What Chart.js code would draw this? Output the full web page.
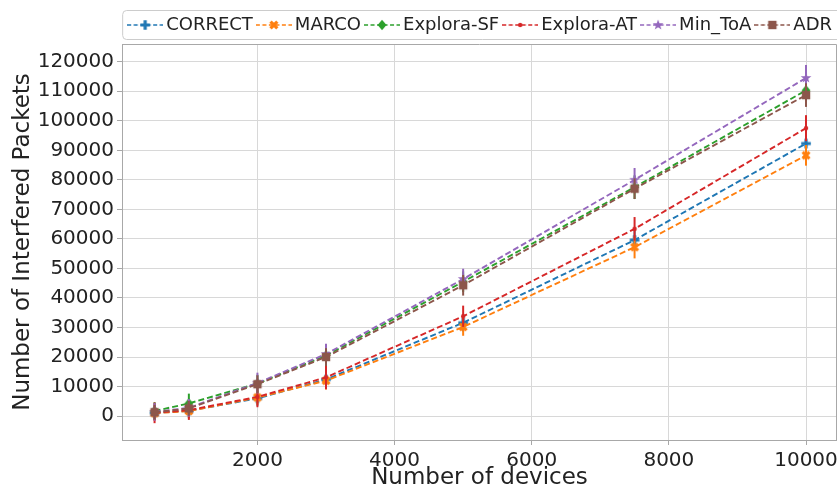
<!DOCTYPE html>
<html>
<head>
<meta charset="utf-8">
<script src="https://cdn.jsdelivr.net/npm/chart.js@4.4.1/dist/chart.umd.min.js"></script>
<style>
  html, body { margin:0; padding:0; background:#fff; }
  #wrap { width:837px; height:487px; position:relative; overflow:hidden; }
</style>
</head>
<body>
<div id="wrap"><canvas id="c" width="837" height="487"></canvas></div>
<script>
// ---- data ----
const devices = [500, 1000, 2000, 3000, 5000, 7500, 10000];
const seriesNames = ['CORRECT', 'MARCO', 'Explora-SF', 'Explora-AT', 'Min_ToA', 'ADR'];
const correct   = [1100, 1800, 6000, 12400, 31600, 59600, 92300];
const marco     = [1000, 1700, 6300, 12000, 30200, 57200, 88300];
const exploraSF = [1700, 4300, 11000, 20500, 45500, 77500, 110300];
const exploraAT = [1100, 2000, 6500, 13100, 33800, 63400, 97500];
const minToA    = [1400, 2800, 11200, 21000, 46400, 80000, 114500];
const adr       = [1300, 2600, 10800, 20000, 44300, 77000, 108700];
const errCorrect   = [2500, 2500, 2500, 3000, 3000, 3500, 3500];
const errMarco     = [2500, 2500, 2500, 3000, 3000, 3800, 3500];
const errExploraSF = [3000, 3300, 3000, 3500, 3500, 4000, 4000];
const errExploraAT = [3500, 3300, 3500, 4000, 3600, 4000, 4400];
const errMinToA    = [3000, 3000, 3500, 3500, 3500, 4000, 4400];
const errAdr       = [2500, 2500, 3000, 3000, 3500, 3500, 4000];
const xTickValues = [2000, 4000, 6000, 8000, 10000];
const yTickValues = [0, 10000, 20000, 30000, 40000, 50000, 60000, 70000, 80000, 90000, 100000, 110000, 120000];

const colors = ['#1f77b4', '#ff7f0e', '#2ca02c', '#d62728', '#9467bd', '#8c564b'];
const markerTypes = ['plus', 'x', 'diamond', 'dot', 'star', 'square'];
const values = [correct, marco, exploraSF, exploraAT, minToA, adr];
const errors = [errCorrect, errMarco, errExploraSF, errExploraAT, errMinToA, errAdr];

function drawMarkerShape(ctx, type, color, cx, cy) {
  ctx.fillStyle = color;
  ctx.beginPath();
  if (type === 'plus' || type === 'x') {
    ctx.save();
    ctx.translate(cx, cy);
    if (type === 'x') ctx.rotate(Math.PI / 4);
    const a = 4.8, t = 1.6;
    ctx.rect(-a, -t, 2 * a, 2 * t);
    ctx.rect(-t, -a, 2 * t, 2 * a);
    ctx.fill();
    ctx.restore();
    return;
  } else if (type === 'diamond') {
    const r = 5.2;
    ctx.moveTo(cx, cy - r); ctx.lineTo(cx + r * 0.85, cy); ctx.lineTo(cx, cy + r); ctx.lineTo(cx - r * 0.85, cy);
    ctx.closePath();
  } else if (type === 'dot') {
    ctx.arc(cx, cy, 2.2, 0, Math.PI * 2);
  } else if (type === 'star') {
    const R = 5.6, r = 2.3;
    for (let k = 0; k < 10; k++) {
      const ang = -Math.PI / 2 + k * Math.PI / 5;
      const rad = k % 2 === 0 ? R : r;
      const px = cx + rad * Math.cos(ang), py = cy + rad * Math.sin(ang);
      if (k === 0) ctx.moveTo(px, py); else ctx.lineTo(px, py);
    }
    ctx.closePath();
  } else if (type === 'square') {
    ctx.rect(cx - 4.2, cy - 4.2, 8.4, 8.4);
  }
  ctx.fill();
}

function makeMarker(type, color) {
  const c = document.createElement('canvas');
  c.width = 14; c.height = 14;
  drawMarkerShape(c.getContext('2d'), type, color, 7, 7);
  return c;
}
function makeLegendSample(type, color) {
  const c = document.createElement('canvas');
  c.width = 36; c.height = 16;
  const ctx = c.getContext('2d');
  ctx.strokeStyle = color;
  ctx.lineWidth = 1.7;
  ctx.setLineDash([4, 2.5]);
  ctx.beginPath(); ctx.moveTo(0, 8); ctx.lineTo(36, 8); ctx.stroke();
  ctx.setLineDash([]);
  drawMarkerShape(ctx, type, color, 18, 8);
  return c;
}

const markerImgs = markerTypes.map((t, i) => makeMarker(t, colors[i]));
const legendImgs = markerTypes.map((t, i) => makeLegendSample(t, colors[i]));

const datasets = seriesNames.map((name, i) => ({
  label: name,
  data: devices.map((x, j) => ({ x: x, y: values[i][j] })),
  errs: errors[i],
  borderColor: colors[i],
  backgroundColor: colors[i],
  borderWidth: 1.9,
  borderDash: [6, 3],
  pointStyle: markerImgs[i],
  pointRadius: 5,
  pointHoverRadius: 5,
  fill: false,
  tension: 0,
  order: seriesNames.length - 1 - i
}));

const errorBarPlugin = {
  id: 'errorBars',
  beforeDatasetDraw(chart, args) {
    const ds = chart.data.datasets[args.index];
    const xs = chart.scales.x, ys = chart.scales.y;
    const ctx = chart.ctx;
    ctx.save();
    ctx.beginPath();
    ctx.rect(chart.chartArea.left, chart.chartArea.top, chart.chartArea.right - chart.chartArea.left, chart.chartArea.bottom - chart.chartArea.top);
    ctx.clip();
    ctx.strokeStyle = ds.borderColor;
    ctx.lineWidth = 2;
    ds.data.forEach((p, j) => {
      const px = xs.getPixelForValue(p.x);
      ctx.beginPath();
      ctx.moveTo(px, ys.getPixelForValue(p.y - ds.errs[j]));
      ctx.lineTo(px, ys.getPixelForValue(p.y + ds.errs[j]));
      ctx.stroke();
    });
    ctx.restore();
  }
};

const framePlugin = {
  id: 'frame',
  afterDraw(chart) {
    const ctx = chart.ctx, a = chart.chartArea;
    ctx.save();
    ctx.strokeStyle = '#a8a8a8';
    ctx.lineWidth = 1;
    ctx.beginPath();
    ctx.moveTo(a.left + 0.5, a.top + 0.5);
    ctx.lineTo(a.right - 0.5, a.top + 0.5);
    ctx.lineTo(a.right - 0.5, a.bottom);
    ctx.stroke();
    // legend box
    const lg = chart.legend;
    if (lg && lg.legendHitBoxes && lg.legendHitBoxes.length) {
      const hb = lg.legendHitBoxes;
      const cy = hb[0].top + hb[0].height / 2;
      const x0 = hb[0].left - 11;
      ctx.strokeStyle = '#cccccc';
      ctx.beginPath();
      if (ctx.roundRect) ctx.roundRect(x0 + 0.5, cy - 14.5, 900, 29, 4);
      else ctx.rect(x0 + 0.5, cy - 14.5, 900, 29);
      ctx.stroke();
    }
    ctx.restore();
  }
};

const font = 'DejaVu Sans';
const chart = new Chart(document.getElementById('c'), {
  type: 'line',
  data: { datasets: datasets },
  plugins: [errorBarPlugin, framePlugin],
  options: {
    responsive: false,
    animation: false,
    layout: { autoPadding: false, padding: { top: 7, left: 0, right: -4, bottom: 0 } },
    plugins: {
      tooltip: { enabled: false },
      legend: {
        position: 'top',
        align: 'end',
        labels: {
          usePointStyle: true,
          pointStyleWidth: 24,
          boxHeight: 16,
          padding: 9,
          color: '#222',
          font: { family: font, size: 18 },
          generateLabels(ch) {
            return ch.data.datasets.map((ds, i) => ({
              text: ds.label,
              pointStyle: legendImgs[i],
              fillStyle: ds.borderColor,
              strokeStyle: ds.borderColor,
              lineWidth: 0,
              hidden: false,
              datasetIndex: i,
              fontColor: '#222'
            }));
          }
        }
      }
    },
    scales: {
      x: {
        type: 'linear',
        min: 25,
        max: 10452,
        afterBuildTicks(s) { s.ticks = xTickValues.map(v => ({ value: v })); },
        afterFit(s) {
          s.height = 47;
          s.paddingRight = 0; s.paddingLeft = 0;
        },
        ticks: { color: '#222', font: { family: font, size: 20 }, padding: 4, maxRotation: 0, autoSkip: false, callback: v => String(v) },
        grid: { color: '#d8d8d8', lineWidth: 1, tickLength: 5, tickColor: '#a8a8a8', drawTicks: true },
        border: { color: '#a8a8a8', width: 1 },
        title: { display: true, text: 'Number of devices', color: '#222', font: { family: font, size: 23, lineHeight: 1.0 }, padding: { top: 0, bottom: -3 } }
      },
      y: {
        type: 'linear',
        min: -8100,
        max: 126000,
        afterBuildTicks(s) { s.ticks = yTickValues.map(v => ({ value: v })); },
        afterFit(s) { s.width = 122; },
        ticks: { color: '#222', font: { family: font, size: 20 }, padding: 3, autoSkip: false, callback: v => String(v) },
        grid: { color: '#d8d8d8', lineWidth: 1, tickLength: 5, tickColor: '#a8a8a8', drawTicks: true },
        border: { color: '#a8a8a8', width: 1 },
        title: { display: true, text: 'Number of Interfered Packets', color: '#222', font: { family: font, size: 23 }, padding: { top: 9, bottom: 0 } }
      }
    }
  }
});
</script>
</body>
</html>
